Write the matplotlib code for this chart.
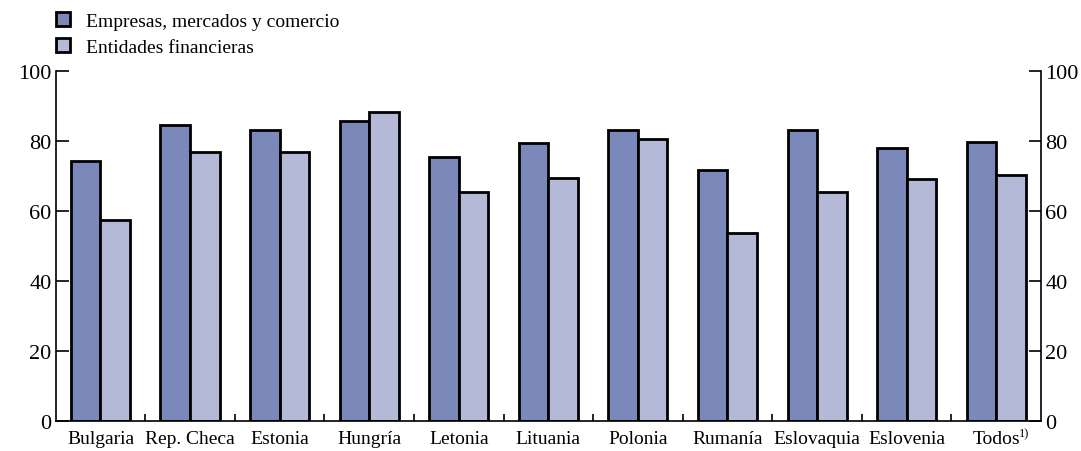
import numpy as np
import matplotlib
matplotlib.use('Agg')
import matplotlib.pyplot as plt
from matplotlib.patches import Patch

plt.rcParams['font.family'] = ['Liberation Serif', 'DejaVu Serif']

paises = ['Bulgaria', 'Rep. Checa', 'Estonia', 'Hungría', 'Letonia', 'Lituania',
          'Polonia', 'Rumanía', 'Eslovaquia', 'Eslovenia', 'Todos']
empresas = [74.3, 84.5, 83.1, 85.7, 75.4, 79.3, 83.1, 71.6, 83.1, 77.9, 79.8]
entidades = [57.4, 76.9, 76.9, 88.3, 65.3, 69.3, 80.5, 53.6, 65.3, 69.0, 70.2]
series = ['Empresas, mercados y comercio', 'Entidades financieras']
colores = ['#7b88ba', '#b5b9d8']

fig = plt.figure(figsize=(10.81, 4.52), dpi=100)
ax = fig.add_axes([0.0515, 0.067, 0.9115, 0.774])

x = np.arange(len(paises))
w = 0.33
ax.bar(x - w / 2, empresas, w, color=colores[0], edgecolor='black', linewidth=2)
ax.bar(x + w / 2, entidades, w, color=colores[1], edgecolor='black', linewidth=2)

ax.set_ylim(0, 100)
ax.set_xlim(-0.5, 10.5)
ax.set_yticks(range(0, 101, 20))
ax.tick_params(axis='y', direction='in', length=9, width=1.2, labelsize=16,
               right=True, labelright=True, pad=3)
ax.set_xticks(x)
ax.set_xticklabels(paises, fontsize=14)
ax.tick_params(axis='x', which='major', length=0, pad=7)
ax.set_xticks(x[:-1] + 0.5, minor=True)
ax.tick_params(axis='x', which='minor', direction='in', length=5, width=1.2)

# superindice de la nota en "Todos"
ax.annotate('1)', xy=(x[-1], 0), xycoords=('data', 'axes fraction'),
            xytext=(20, -9), textcoords='offset points', fontsize=9,
            ha='center', va='center')

ax.spines['top'].set_visible(False)
for s in ['left', 'right', 'bottom']:
    ax.spines[s].set_linewidth(1.2)

handles = [Patch(facecolor=c, edgecolor='black', linewidth=2) for c in colores]
fig.legend(handles, series, loc='upper left', bbox_to_anchor=(0.041, 0.997),
           frameon=False, fontsize=14, handlelength=0.7, handleheight=0.7,
           handletextpad=0.85, labelspacing=0.45, borderaxespad=0.2)

fig.savefig('out.png', dpi=100)
